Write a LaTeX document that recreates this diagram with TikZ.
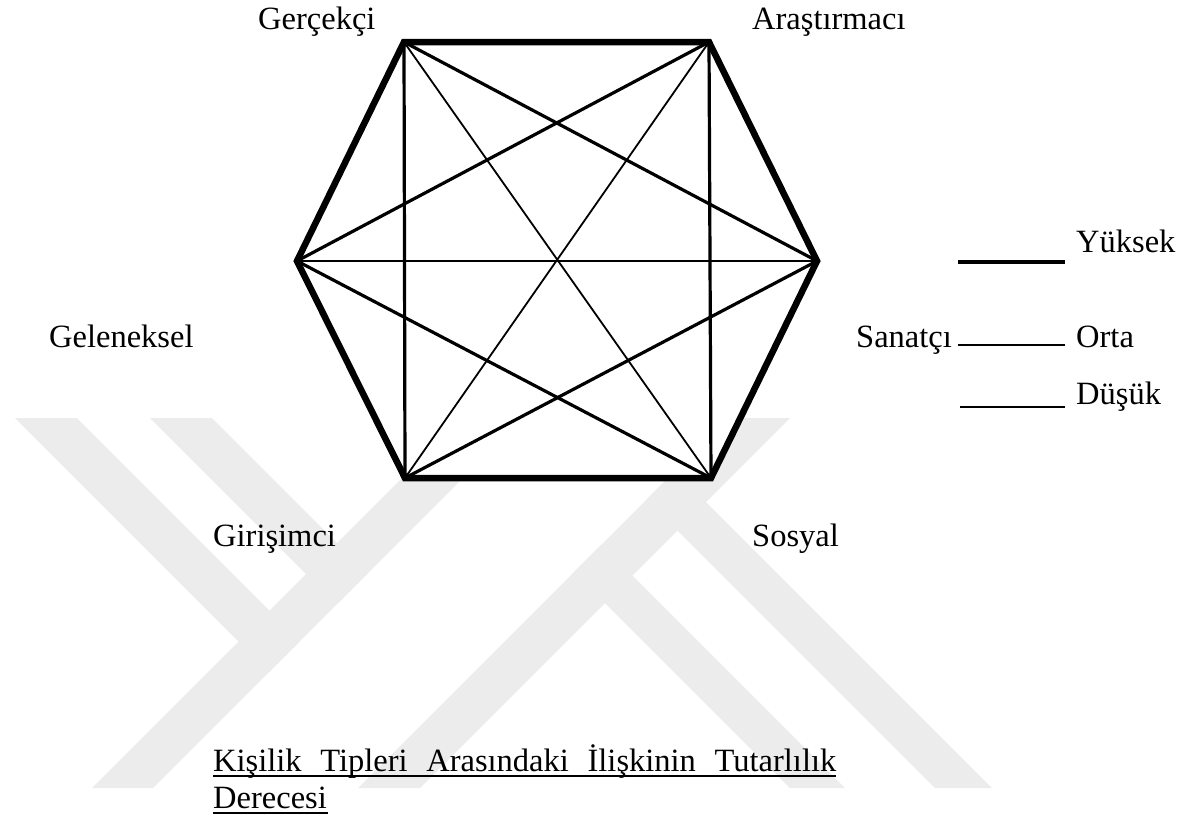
\documentclass[tikz,border=0pt]{standalone}
\usepackage{fontspec}
\setmainfont{Liberation Serif}
\definecolor{wmgray}{RGB}{236,236,236}
\begin{document}
\begin{tikzpicture}[x=1pt,y=-1pt,
  lbl/.style={anchor=base west,inner sep=0pt,font=\fontsize{32.5}{38}\selectfont},
  edgeline/.style={line width=6.5pt,line join=miter},
  midline/.style={line width=3.2pt},
  thinline/.style={line width=1.8pt},
  wm/.style={fill=wmgray,draw=none}]
\useasboundingbox (0,0) rectangle (1189,823);
% watermark (light grey bands)
\fill[wm] (15,418) -- (77,418) -- (300,641) -- (269,672) -- cycle;
\fill[wm] (150,418) -- (212,418) -- (367.5,573.5) -- (336.5,604.5) -- cycle;
\fill[wm] (92,788) -- (153,788) -- (523,418) -- (462,418) -- cycle;
\fill[wm] (358,788) -- (420,788) -- (790,418) -- (728,418) -- cycle;
\fill[wm] (574,572) -- (601.5,544.5) -- (845,788) -- (790,788) -- cycle;
\fill[wm] (646.5,499.5) -- (675,471) -- (992,788) -- (935,788) -- cycle;
% vertices
\coordinate (TL) at (404,42);
\coordinate (TR) at (709,42);
\coordinate (R) at (817,261);
\coordinate (BR) at (711,478);
\coordinate (BL) at (405,478);
\coordinate (L) at (297,261);
\fill[white] (TL) -- (TR) -- (R) -- (BR) -- (BL) -- (L) -- cycle;
% medium lines
\draw[midline] (TL) -- (BL);
\draw[midline] (TR) -- (BR);
\draw[midline] (TL) -- (R);
\draw[midline] (TR) -- (L);
\draw[midline] (L) -- (BR);
\draw[midline] (R) -- (BL);
% thin lines
\draw[thinline] (L) -- (R);
\draw[thinline] (TL) -- (BR);
\draw[thinline] (TR) -- (BL);
% hexagon
\draw[edgeline] (TL) -- (TR) -- (R) -- (BR) -- (BL) -- (L) -- cycle;
% labels
\node[lbl] (gercekci) at (258,29) {Gerçekçi};
\node[lbl] (arastirmaci) at (752,29) {Araştırmacı};
\node[lbl] (geleneksel) at (49,347) {Geleneksel};
\node[lbl] (sanatci) at (856,347) {Sanatçı};
\node[lbl] (girisimci) at (213,546) {Girişimci};
\node[lbl] (sosyal) at (752,546) {Sosyal};
% legend
\node[lbl] (yuksek) at (1076,252) {Yüksek};
\node[lbl] (orta) at (1076,347) {Orta};
\node[lbl] (dusuk) at (1076,404) {Düşük};
\coordinate (y1) at (958,262); \coordinate (y2) at (1065,262);
\coordinate (o1) at (958,345); \coordinate (o2) at (1065,345);
\coordinate (d1) at (960,407); \coordinate (d2) at (1065,407);
\draw[line width=3.6pt] (y1) -- (y2);
\draw[line width=2.6pt] (o1) -- (o2);
\draw[line width=1.8pt] (d1) -- (d2);
% caption
\node[lbl] (cap1) at (213,771) {\hbox to 623pt{Kişilik\hfill Tipleri\hfill Arasındaki\hfill İlişkinin\hfill Tutarlılık}};
\node[lbl] (cap2) at (213,808) {Derecesi};
\draw[line width=1.6pt] (213,776) -- (836,776);
\draw[line width=1.6pt] (213,813) -- (328,813);
\end{tikzpicture}
\end{document}
